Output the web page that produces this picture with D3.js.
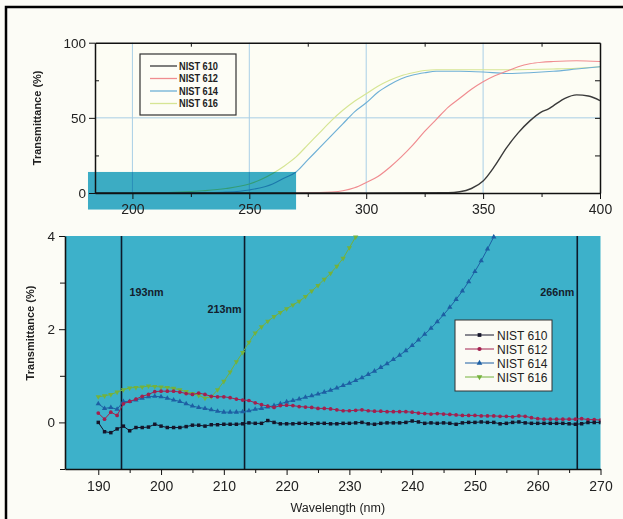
<!DOCTYPE html>
<html lang="en">
<head>
    <meta charset="utf-8">
    <title>Transmittance</title>
    <style type="text/css">
        body{ margin:0; background:#fcfcf6; }
        svg{ display:block; font-family:"Liberation Sans", Arial, sans-serif; }
        .axis path, .axis line{ stroke:#111; }
        .axis text{ fill:#222; }
    </style>
</head>
<body>
   <svg class="svg_chart" width="623" height="519"></svg>

   <script src="https://d3js.org/d3.v7.min.js"></script>
   <script>
        // ---- data: full spectrum (top panel) ----
        var seriesNames = ['NIST 610', 'NIST 612', 'NIST 614', 'NIST 616'];
        var topColors = ['#3a3a3a', '#f08c90', '#6fb0d6', '#d6e594'];

        var topWl610 = [184, 300, 335, 340, 345, 350, 355, 360, 365, 370, 375, 378, 380, 385, 390, 395, 400];
        var topT610  = [0, 0, 0.2, 0.8, 3, 8, 18, 30, 40, 48, 54, 56, 58, 63, 65.3, 64.5, 61.5];

        var topWl612 = [184, 270, 280, 285, 290, 295, 300, 305, 310, 315, 320, 325, 330, 335, 340, 345, 350, 355, 360, 365, 370, 375, 380, 390, 400];
        var topT612  = [0, 0, 0.2, 0.6, 1.5, 3.5, 7, 11, 17, 24, 32, 41, 49, 57, 63, 69, 74, 78, 81, 84, 86, 87, 87.5, 88, 87.5];

        var topWl614 = [184, 220, 230, 240, 250, 260, 265, 270, 275, 280, 285, 290, 295, 300, 305, 310, 315, 320, 325, 330, 340, 350, 360, 370, 380, 390, 400];
        var topT614  = [0, 0, 0.2, 0.6, 2, 6, 10, 14, 22, 30, 38, 46, 54, 60, 67, 72, 76, 78.5, 80, 81, 81, 80.5, 79.5, 80, 81, 82.5, 84];

        var topWl616 = [184, 210, 220, 230, 240, 250, 255, 260, 265, 270, 275, 280, 285, 290, 295, 300, 305, 310, 315, 320, 325, 330, 340, 360, 380, 390, 400];
        var topT616  = [0, 0.2, 0.6, 1.5, 3, 6, 9, 13, 18, 24, 32, 40, 48, 55, 61, 66, 71, 75, 78, 80, 81.5, 82, 82, 82, 82.5, 83, 84];

        var topXTicks = [200, 250, 300, 350, 400];
        var topYTicks = [0, 50, 100];
        var zoomBox = {x0: 181, x1: 270, y0: -11, y1: 14};   // region enlarged below

        // ---- data: UV detail (bottom panel) ----
        var wl = [190, 191, 192, 193, 194, 195, 196, 197, 198, 199,
                  200, 201, 202, 203, 204, 205, 206, 207, 208, 209,
                  210, 211, 212, 213, 214, 215, 216, 217, 218, 219,
                  220, 221, 222, 223, 224, 225, 226, 227, 228, 229,
                  230, 231, 232, 233, 234, 235, 236, 237, 238, 239,
                  240, 241, 242, 243, 244, 245, 246, 247, 248, 249,
                  250, 251, 252, 253, 254, 255, 256, 257, 258, 259,
                  260, 261, 262, 263, 264, 265, 266, 267, 268, 269, 270];

        var t610 = [0.0, -0.2, -0.22, -0.14, -0.08, -0.18, -0.11, -0.11, -0.1, -0.04,
                    -0.08, -0.11, -0.11, -0.11, -0.09, -0.06, -0.06, -0.08, -0.05, -0.05,
                    -0.04, -0.04, -0.04, -0.03, -0.01, -0.02, -0.02, 0.04, 0.0, -0.03,
                    -0.03, -0.03, -0.02, -0.02, -0.03, -0.02, -0.02, -0.03, -0.03, -0.02,
                    -0.02, -0.01, 0.0, -0.03, -0.04, -0.02, -0.01, -0.01, -0.01, 0.0,
                    0.03, 0.01, -0.02, -0.01, -0.02, -0.01, -0.02, -0.04, -0.01, 0.0,
                    0.0, 0.01, 0.0, 0.0, -0.03, -0.02, 0.0, 0.01, -0.01, -0.02,
                    -0.02, -0.02, -0.02, -0.02, -0.02, -0.03, -0.04, -0.03, 0.0, 0.0, 0.0];

        var t612 = [0.2, 0.07, 0.22, 0.15, 0.4, 0.45, 0.5, 0.56, 0.6, 0.66,
                    0.67, 0.67, 0.67, 0.65, 0.62, 0.6, 0.63, 0.6, 0.56, 0.55,
                    0.55, 0.53, 0.5, 0.48, 0.47, 0.42, 0.38, 0.35, 0.32, 0.36,
                    0.37, 0.36, 0.34, 0.33, 0.32, 0.3, 0.3, 0.29, 0.27, 0.25,
                    0.25, 0.26, 0.27, 0.25, 0.24, 0.24, 0.23, 0.23, 0.23, 0.23,
                    0.22, 0.2, 0.19, 0.18, 0.19, 0.18, 0.17, 0.16, 0.15, 0.15,
                    0.15, 0.14, 0.14, 0.14, 0.13, 0.13, 0.12, 0.14, 0.13, 0.1,
                    0.08, 0.07, 0.07, 0.07, 0.07, 0.07, 0.07, 0.08, 0.06, 0.06, 0.05];

        // 614 and 616 leave the plot at the top, so they are shorter
        var t614 = [0.4, 0.3, 0.32, 0.28, 0.45, 0.45, 0.48, 0.52, 0.55, 0.56,
                    0.55, 0.52, 0.48, 0.45, 0.4, 0.35, 0.32, 0.3, 0.27, 0.24,
                    0.22, 0.22, 0.22, 0.23, 0.25, 0.28, 0.3, 0.33, 0.36, 0.4,
                    0.44, 0.47, 0.5, 0.54, 0.57, 0.61, 0.65, 0.69, 0.74, 0.79,
                    0.84, 0.9, 0.96, 1.03, 1.1, 1.18, 1.26, 1.35, 1.44, 1.54,
                    1.65, 1.77, 1.89, 2.02, 2.16, 2.31, 2.47, 2.64, 2.82, 3.02,
                    3.24, 3.47, 3.72, 3.98];

        var t616 = [0.55, 0.57, 0.6, 0.65, 0.7, 0.74, 0.75, 0.76, 0.78, 0.77,
                    0.76, 0.75, 0.73, 0.7, 0.66, 0.62, 0.58, 0.52, 0.55, 0.7,
                    0.88, 1.08, 1.3, 1.5, 1.72, 1.92, 2.05, 2.17, 2.27, 2.36,
                    2.44, 2.52, 2.6, 2.7, 2.82, 2.94, 3.07, 3.2, 3.35, 3.52,
                    3.75, 3.98];

        var botColors = ['#15152a', '#a3204e', '#1d5fa3', '#74b23c'];
        var botSymbols = [d3.symbolSquare, d3.symbolCircle, d3.symbolTriangle, d3.symbolTriangle];
        var laserLines = [193.7, 213.3, 266.3];
        var laserLabels = ['193nm', '213nm', '266nm'];
        var botXTicks = [190, 200, 210, 220, 230, 240, 250, 260, 270];
        var botYTicks = [0, 2, 4];

        var svg = d3.select('.svg_chart');

        // outer frame (only top/left are inside the picture)
        svg.append('rect')
            .attr('x', 6).attr('y', 7).attr('width', 640).attr('height', 540)
            .attr('fill', 'none').attr('stroke', '#000').attr('stroke-width', 2.5);

        // =============== top panel ===============
        var pTop = {left: 95, right: 600, top: 42.7, bottom: 193};
        var x1 = d3.scaleLinear().domain([184, 400]).range([pTop.left, pTop.right]);
        var y1 = d3.scaleLinear().domain([0, 100]).range([pTop.bottom, pTop.top]);

        var g1 = svg.append('g');

        g1.append('rect')
            .attr('x', pTop.left).attr('y', pTop.top)
            .attr('width', pTop.right - pTop.left).attr('height', pTop.bottom - pTop.top)
            .attr('fill', '#fdfdf4');

        // light grid
        g1.selectAll('.vgrid')
            .data([200, 250, 300, 350])
            .enter().append('line')
            .attr('x1', function(d){ return x1(d); }).attr('x2', function(d){ return x1(d); })
            .attr('y1', pTop.top).attr('y2', pTop.bottom)
            .attr('stroke', '#a9cfe6').attr('stroke-width', 1);
        g1.append('line')
            .attr('x1', pTop.left).attr('x2', pTop.right)
            .attr('y1', y1(50)).attr('y2', y1(50))
            .attr('stroke', '#a9cfe6').attr('stroke-width', 1);

        var topData = [
            d3.zip(topWl610, topT610),
            d3.zip(topWl612, topT612),
            d3.zip(topWl614, topT614),
            d3.zip(topWl616, topT616)
        ];
        var line1 = d3.line()
            .x(function(d){ return x1(d[0]); })
            .y(function(d){ return y1(d[1]); })
            .curve(d3.curveMonotoneX);

        // draw 610 last so the flat black baseline sits on top
        [3, 2, 1, 0].forEach(function(i){
            g1.append('path')
                .attr('d', line1(topData[i]))
                .attr('fill', 'none')
                .attr('stroke', topColors[i])
                .attr('stroke-width', i == 0 ? 1.4 : 1.2);
        });

        // highlighted region, multiplied over the curves
        g1.append('rect')
            .attr('x', x1(zoomBox.x0)).attr('y', y1(zoomBox.y1))
            .attr('width', x1(zoomBox.x1) - x1(zoomBox.x0))
            .attr('height', y1(zoomBox.y0) - y1(zoomBox.y1))
            .attr('fill', '#3caecc')
            .style('mix-blend-mode', 'multiply');

        // axes: box with outward major ticks
        g1.append('g').attr('class', 'axis')
            .attr('transform', 'translate(0,' + pTop.bottom + ')')
            .call(d3.axisBottom(x1).tickValues(topXTicks).tickSize(6).tickPadding(5).tickSizeOuter(0))
            .call(function(a){ a.selectAll('text').attr('font-size', 14); a.select('.domain').attr('stroke-width', 1.5); });
        g1.append('g').attr('class', 'axis')
            .attr('transform', 'translate(' + pTop.left + ',0)')
            .call(d3.axisLeft(y1).tickValues(topYTicks).tickSize(6).tickPadding(3).tickSizeOuter(0))
            .call(function(a){ a.selectAll('text').attr('font-size', 13.5); a.select('.domain').attr('stroke-width', 1.5); });
        g1.append('g').attr('class', 'axis')
            .attr('transform', 'translate(0,' + pTop.top + ')')
            .call(d3.axisTop(x1).tickValues([225, 275, 325, 375]).tickSize(-4).tickFormat('').tickSizeOuter(0))
            .call(function(a){ a.select('.domain').attr('stroke-width', 1.5); });
        g1.append('g').attr('class', 'axis')
            .attr('transform', 'translate(' + pTop.right + ',0)')
            .call(d3.axisRight(y1).tickValues([25, 50, 75]).tickSize(-5).tickFormat('').tickSizeOuter(0))
            .call(function(a){ a.select('.domain').attr('stroke-width', 1.5); });
        g1.append('g').attr('class', 'axis')
            .attr('transform', 'translate(0,' + pTop.bottom + ')')
            .call(d3.axisBottom(x1).tickValues([225, 275, 325, 375]).tickSize(4).tickFormat(''))
            .call(function(a){ a.select('.domain').remove(); });
        g1.append('g').attr('class', 'axis')
            .attr('transform', 'translate(' + pTop.left + ',0)')
            .call(d3.axisLeft(y1).tickValues([25, 75]).tickSize(-4).tickFormat(''))
            .call(function(a){ a.select('.domain').remove(); });

        g1.append('text')
            .attr('transform', 'translate(41,' + ((pTop.top + pTop.bottom) / 2) + ') rotate(-90)')
            .attr('text-anchor', 'middle')
            .attr('font-size', 11).attr('font-weight', 'bold').attr('fill', '#222')
            .text('Transmittance (%)');

        // top legend
        var lg1 = g1.append('g').attr('transform', 'translate(140,54)');
        lg1.append('rect')
            .attr('width', 96).attr('height', 61)
            .attr('fill', '#fdfdf6').attr('stroke', '#333').attr('stroke-width', 1.2);
        seriesNames.forEach(function(name, i){
            var yy = 12 + i * 12.5;
            lg1.append('line')
                .attr('x1', 10).attr('x2', 37).attr('y1', yy).attr('y2', yy)
                .attr('stroke', topColors[i]).attr('stroke-width', 1.3);
            lg1.append('text')
                .attr('x', 39).attr('y', yy + 3.5)
                .attr('font-size', 10).attr('font-weight', 'bold').attr('fill', '#222')
                .attr('textLength', 39).attr('lengthAdjust', 'spacingAndGlyphs')
                .text(name);
        });

        // =============== bottom panel ===============
        var pBot = {left: 65, right: 600.5, top: 236, bottom: 469};
        var x2 = d3.scaleLinear().domain([184.7, 270]).range([pBot.left, pBot.right]);
        var y2 = d3.scaleLinear().domain([-1, 4]).range([pBot.bottom, pBot.top]);

        var g2 = svg.append('g');

        g2.append('rect')
            .attr('x', pBot.left).attr('y', pBot.top)
            .attr('width', pBot.right - pBot.left).attr('height', pBot.bottom - pBot.top)
            .attr('fill', '#3db1ca');

        // laser wavelength markers
        g2.selectAll('.laser')
            .data(laserLines)
            .enter().append('line')
            .attr('x1', function(d){ return x2(d); }).attr('x2', function(d){ return x2(d); })
            .attr('y1', pBot.top).attr('y2', pBot.bottom)
            .attr('stroke', '#0d1a2a').attr('stroke-width', 1.6);

        var labelPos = [{dx: 8, dy: 296, anchor: 'start'},
                        {dx: -3, dy: 313, anchor: 'end'},
                        {dx: -3, dy: 296, anchor: 'end'}];
        laserLabels.forEach(function(t, i){
            g2.append('text')
                .attr('x', x2(laserLines[i]) + labelPos[i].dx)
                .attr('y', labelPos[i].dy)
                .attr('text-anchor', labelPos[i].anchor)
                .attr('font-size', 10).attr('font-weight', 'bold').attr('fill', '#14202c')
                .attr('textLength', 34).attr('lengthAdjust', 'spacingAndGlyphs')
                .text(t);
        });

        var botData = [t610, t612, t614, t616].map(function(vals){
            return vals.map(function(v, j){ return [wl[j], v]; });
        });

        var line2 = d3.line()
            .x(function(d){ return x2(d[0]); })
            .y(function(d){ return y2(d[1]); });

        svg.append('clipPath').attr('id', 'clipBot')
            .append('rect')
            .attr('x', pBot.left).attr('y', pBot.top - 2)
            .attr('width', pBot.right - pBot.left).attr('height', pBot.bottom - pBot.top + 2);

        var plot2 = g2.append('g').attr('clip-path', 'url(#clipBot)');

        function symPath(i, size){
            return d3.symbol().type(botSymbols[i]).size(size)();
        }

        [3, 2, 1, 0].forEach(function(i){
            plot2.append('path')
                .attr('d', line2(botData[i]))
                .attr('fill', 'none')
                .attr('stroke', botColors[i])
                .attr('stroke-width', 1);
            plot2.selectAll('.m' + i)
                .data(botData[i])
                .enter().append('path')
                .attr('d', symPath(i, i == 1 ? 11 : 12))
                .attr('transform', function(d){
                    return 'translate(' + x2(d[0]) + ',' + y2(d[1]) + ')' + (i == 3 ? ' rotate(180)' : '');
                })
                .attr('fill', botColors[i]);
        });

        // bottom axes
        g2.append('g').attr('class', 'axis')
            .attr('transform', 'translate(0,' + pBot.bottom + ')')
            .call(d3.axisBottom(x2).tickValues(botXTicks).tickSize(6).tickPadding(6).tickSizeOuter(0))
            .call(function(a){ a.selectAll('text').attr('font-size', 14); a.select('.domain').attr('stroke-width', 1.6); });
        g2.append('g').attr('class', 'axis')
            .attr('transform', 'translate(0,' + pBot.bottom + ')')
            .call(d3.axisBottom(x2).tickValues([195, 205, 215, 225, 235, 245, 255, 265]).tickSize(4).tickFormat(''))
            .call(function(a){ a.select('.domain').remove(); });
        g2.append('g').attr('class', 'axis')
            .attr('transform', 'translate(' + pBot.left + ',0)')
            .call(d3.axisLeft(y2).tickValues(botYTicks).tickFormat(d3.format('d')).tickSize(6).tickPadding(4).tickSizeOuter(0))
            .call(function(a){ a.selectAll('text').attr('font-size', 13.5); a.select('.domain').attr('stroke-width', 1.6); });
        g2.append('g').attr('class', 'axis')
            .attr('transform', 'translate(' + pBot.left + ',0)')
            .call(d3.axisLeft(y2).tickValues([-1, 1, 3]).tickSize(5).tickFormat(''))
            .call(function(a){ a.select('.domain').remove(); });

        g2.append('text')
            .attr('x', (pBot.left + pBot.right) / 2 + 5).attr('y', 512)
            .attr('text-anchor', 'middle')
            .attr('font-size', 12.5).attr('fill', '#222')
            .text('Wavelength (nm)');
        g2.append('text')
            .attr('transform', 'translate(34,333) rotate(-90)')
            .attr('text-anchor', 'middle')
            .attr('font-size', 11).attr('font-weight', 'bold').attr('fill', '#222')
            .text('Transmittance (%)');

        // bottom legend
        var lg2 = g2.append('g').attr('transform', 'translate(455,320)');
        lg2.append('rect')
            .attr('width', 97).attr('height', 71)
            .attr('fill', '#fbfbf5').attr('stroke', '#333').attr('stroke-width', 1);
        seriesNames.forEach(function(name, i){
            var yy = 15 + i * 14;
            lg2.append('line')
                .attr('x1', 10).attr('x2', 39).attr('y1', yy).attr('y2', yy)
                .attr('stroke', botColors[i]).attr('stroke-width', 1);
            lg2.append('path')
                .attr('d', symPath(i, 14))
                .attr('transform', 'translate(24.5,' + yy + ')' + (i == 3 ? ' rotate(180)' : ''))
                .attr('fill', botColors[i]);
            lg2.append('text')
                .attr('x', 42).attr('y', yy + 4.5)
                .attr('font-size', 12).attr('fill', '#222')
                .text(name);
        });
   </script>
</body>
</html>
